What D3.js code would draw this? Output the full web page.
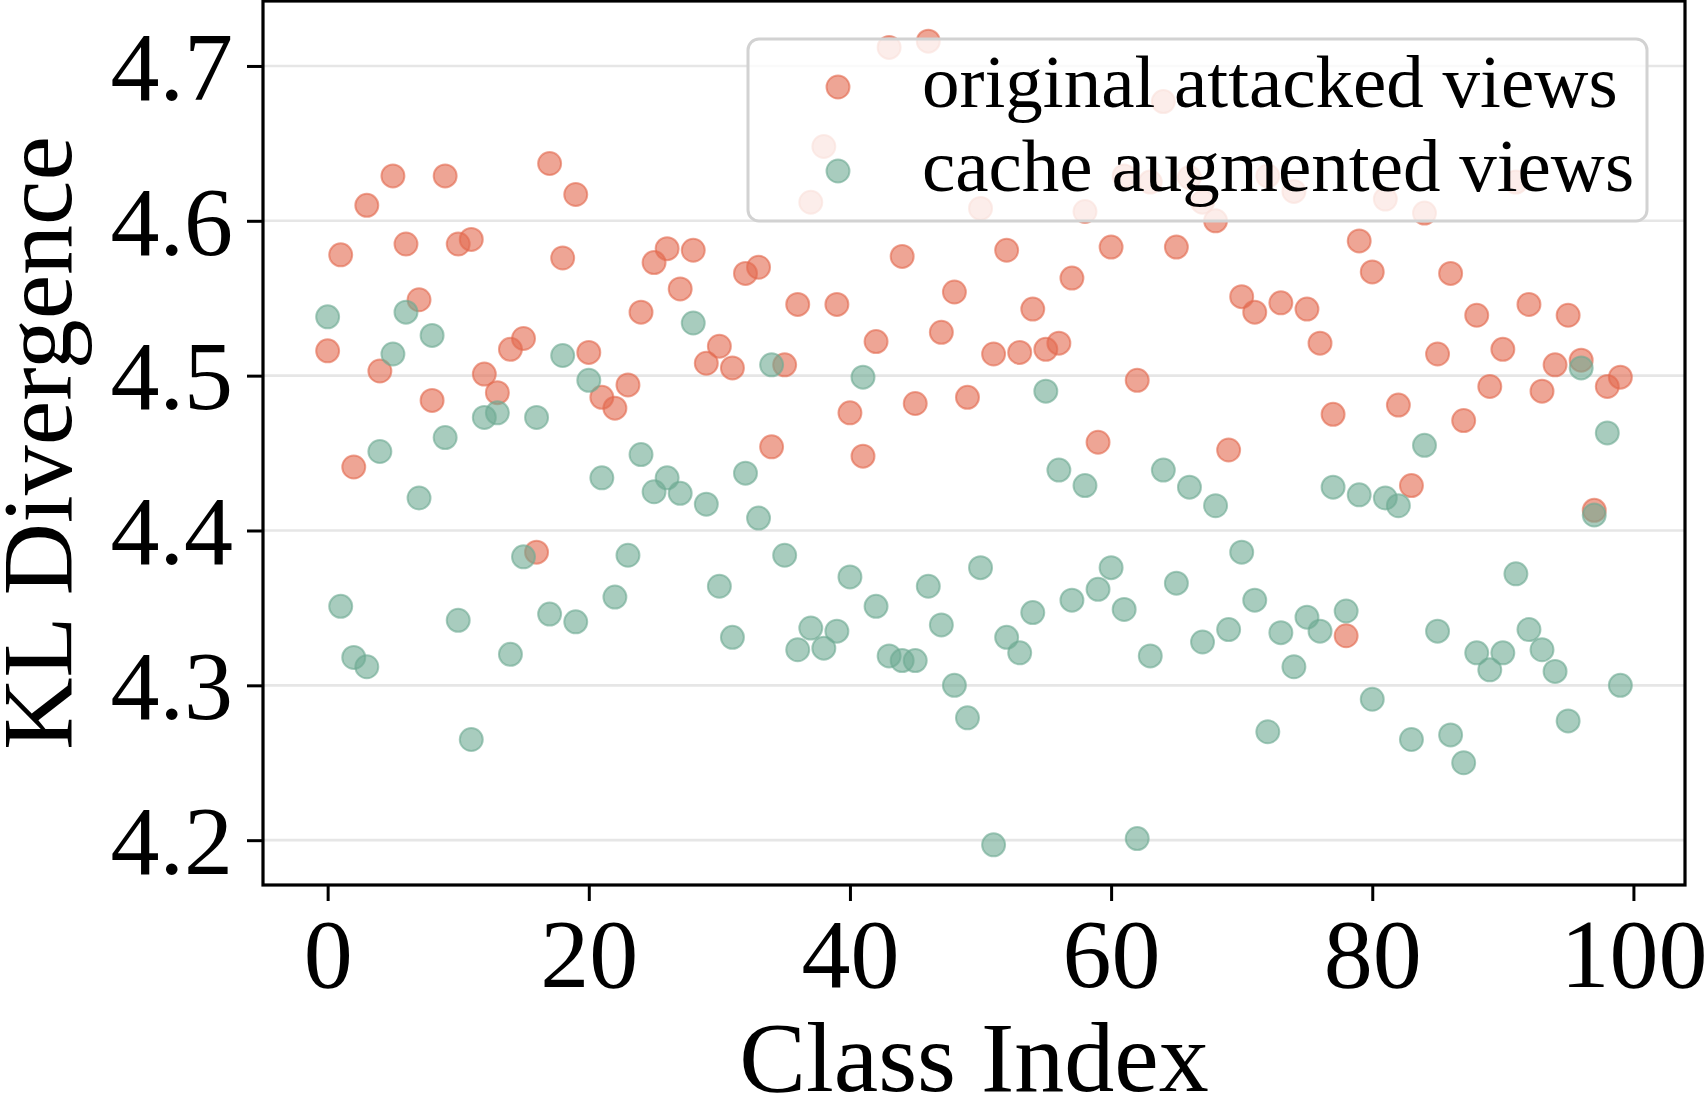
<!DOCTYPE html>
<html lang="en">
<head>
<meta charset="UTF-8">
<title>KL Divergence per class</title>
<script src="https://cdn.jsdelivr.net/npm/d3@7"></script>
<style>
    body { margin: 0; background: #fff; }
    svg text { font-family: "Liberation Serif", "Times New Roman", serif; fill: #000; }
    .axis .domain { display: none; }
    .axis line { stroke: #000; stroke-width: 3; }
    .grid line { stroke: #e6e6e6; stroke-width: 2.6; }
</style>
</head>
<body>
<div id="chart"></div>
<script>
// values, class index 0..99
var original = [
    4.516, 4.578, 4.441, 4.610, 4.503, 4.629, 4.585, 4.549, 4.484, 4.629,
    4.585, 4.588, 4.501, 4.489, 4.517, 4.524, 4.386, 4.637, 4.576, 4.617,
    4.515, 4.486, 4.479, 4.494, 4.541, 4.573, 4.582, 4.556, 4.581, 4.508,
    4.519, 4.505, 4.566, 4.570, 4.454, 4.507, 4.546, 4.612, 4.648, 4.546,
    4.476, 4.448, 4.522, 4.712, 4.577, 4.482, 4.716, 4.528, 4.554, 4.486,
    4.608, 4.514, 4.581, 4.515, 4.543, 4.517, 4.521, 4.563, 4.606, 4.457,
    4.583, 4.629, 4.497, 4.625, 4.677, 4.583, 4.628, 4.612, 4.600, 4.452,
    4.551, 4.541, 4.629, 4.547, 4.619, 4.543, 4.521, 4.475, 4.332, 4.587,
    4.567, 4.614, 4.481, 4.429, 4.605, 4.514, 4.566, 4.471, 4.539, 4.493,
    4.517, 4.625, 4.546, 4.490, 4.507, 4.539, 4.510, 4.413, 4.493, 4.499
];
var cache = [
    4.538, 4.351, 4.318, 4.312, 4.451, 4.514, 4.541, 4.421, 4.526, 4.460,
    4.342, 4.265, 4.473, 4.476, 4.320, 4.383, 4.473, 4.346, 4.513, 4.341,
    4.497, 4.434, 4.357, 4.384, 4.449, 4.425, 4.434, 4.424, 4.534, 4.417,
    4.364, 4.331, 4.437, 4.408, 4.507, 4.384, 4.323, 4.337, 4.324, 4.335,
    4.370, 4.499, 4.351, 4.319, 4.316, 4.316, 4.364, 4.339, 4.300, 4.279,
    4.376, 4.197, 4.331, 4.321, 4.347, 4.490, 4.439, 4.355, 4.429, 4.362,
    4.376, 4.349, 4.201, 4.319, 4.439, 4.366, 4.428, 4.328, 4.416, 4.336,
    4.386, 4.355, 4.270, 4.334, 4.312, 4.344, 4.335, 4.428, 4.348, 4.423,
    4.291, 4.421, 4.416, 4.265, 4.455, 4.335, 4.268, 4.250, 4.321, 4.310,
    4.321, 4.372, 4.336, 4.323, 4.309, 4.277, 4.505, 4.410, 4.463, 4.300
];
var seriesNames  = ["original attacked views", "cache augmented views"];
var seriesColors = ["#e3694f", "#6eaa93"];
var xTicks = [0, 20, 40, 60, 80, 100];
var yTicks = [4.2, 4.3, 4.4, 4.5, 4.6, 4.7];

var width = 1706, height = 1095;
var margin = { top: 1, right: 21, bottom: 210, left: 263 };
var plotW = width - margin.left - margin.right,
    plotH = height - margin.top - margin.bottom;

var series = [original, cache].map(function(vals, k) {
    return {
        name: seriesNames[k],
        color: seriesColors[k],
        points: vals.map(function(v, i) { return { x: i, y: v }; })
    };
});

// matplotlib style 5% margins around the data
var allY = original.concat(cache);
var yMin = d3.min(allY), yMax = d3.max(allY), yPad = (yMax - yMin) * 0.05;
var xPad = (original.length - 1) * 0.05;

var x = d3.scaleLinear().domain([-xPad, original.length - 1 + xPad]).range([0, plotW]);
var y = d3.scaleLinear().domain([yMin - yPad, yMax + yPad]).range([plotH, 0]);

var svg = d3.select("#chart").append("svg")
    .attr("width", width)
    .attr("height", height);

var g = svg.append("g")
    .attr("transform", "translate(" + margin.left + "," + margin.top + ")");

// horizontal grid
g.append("g").attr("class", "grid")
    .selectAll("line").data(yTicks).enter().append("line")
    .attr("x1", 0).attr("x2", plotW)
    .attr("y1", function(d) { return y(d); })
    .attr("y2", function(d) { return y(d); });

// points
series.forEach(function(s) {
    g.append("g").selectAll("circle").data(s.points).enter().append("circle")
        .attr("cx", function(d) { return x(d.x); })
        .attr("cy", function(d) { return y(d.y); })
        .attr("r", 11.5)
        .attr("fill", s.color)
        .attr("fill-opacity", 0.6)
        .attr("stroke", s.color)
        .attr("stroke-opacity", 0.6)
        .attr("stroke-width", 2);
});

// axes
var xAxis = g.append("g").attr("class", "axis")
    .attr("transform", "translate(0," + plotH + ")")
    .call(d3.axisBottom(x).tickValues(xTicks).tickSize(16).tickSizeOuter(0).tickPadding(16)
        .tickFormat(d3.format("d")));
xAxis.selectAll("text").style("font-size", "98px");

var yAxis = g.append("g").attr("class", "axis")
    .call(d3.axisLeft(y).tickValues(yTicks).tickSize(16).tickSizeOuter(0).tickPadding(14)
        .tickFormat(d3.format(".1f")));
yAxis.selectAll("text").style("font-size", "98px").attr("dy", "0.34em");

// frame
g.append("rect")
    .attr("x", 0).attr("y", 0)
    .attr("width", plotW).attr("height", plotH)
    .attr("fill", "none").attr("stroke", "#000").attr("stroke-width", 3.2);

// axis titles
svg.append("text")
    .attr("x", margin.left + plotW / 2)
    .attr("y", 1091)
    .attr("text-anchor", "middle")
    .style("font-size", "100px")
    .text("Class Index");

svg.append("text")
    .attr("transform", "translate(71," + (margin.top + plotH / 2) + ") rotate(-90)")
    .attr("text-anchor", "middle")
    .style("font-size", "100px")
    .text("KL Divergence");

// legend
var legend = svg.append("g").attr("transform", "translate(748,39)");
legend.append("rect")
    .attr("width", 899).attr("height", 182)
    .attr("rx", 11).attr("ry", 11)
    .attr("fill", "#fff").attr("fill-opacity", 0.8)
    .attr("stroke", "#d2d2d2").attr("stroke-width", 3);

var item = legend.selectAll("g.item").data(series).enter().append("g")
    .attr("class", "item")
    .attr("transform", function(d, i) { return "translate(0," + (48 + i * 84) + ")"; });
item.append("circle")
    .attr("cx", 90).attr("cy", 0).attr("r", 11.5)
    .attr("fill", function(d) { return d.color; }).attr("fill-opacity", 0.6)
    .attr("stroke", function(d) { return d.color; }).attr("stroke-opacity", 0.6)
    .attr("stroke-width", 2);
item.append("text")
    .attr("x", 174).attr("y", 20)
    .style("font-size", "75px")
    .text(function(d) { return d.name; });
</script>
</body>
</html>
